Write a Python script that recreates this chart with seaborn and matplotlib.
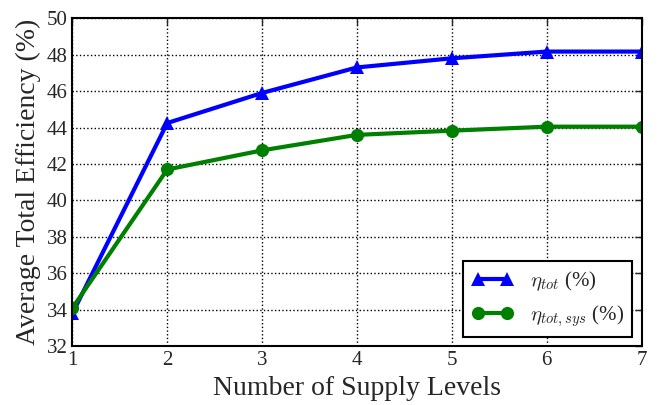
import matplotlib
matplotlib.use("Agg")
import matplotlib.pyplot as plt
import seaborn as sns
import pandas as pd

levels = [1, 2, 3, 4, 5, 6, 7]
eta_tot = [33.8, 44.25, 45.9, 47.3, 47.8, 48.17, 48.17]
eta_tot_sys = [34.1, 41.7, 42.75, 43.6, 43.83, 44.05, 44.05]
label_tot = r"$\eta_{tot}$ (%)"
label_sys = r"$\eta_{tot,sys}$ (%)"

sns.set_style("white")
plt.rcParams['font.family'] = ['Liberation Serif', 'DejaVu Serif']
plt.rcParams['mathtext.fontset'] = 'cm'

df = pd.DataFrame({
    "x": levels * 2,
    "y": eta_tot + eta_tot_sys,
    "series": [label_tot] * len(levels) + [label_sys] * len(levels),
})

fig, ax = plt.subplots(figsize=(6.58, 4.05), dpi=100)
sns.lineplot(data=df, x="x", y="y", hue="series", style="series",
             palette=["#0000ff", "#008000"], markers=["^", "o"], dashes=False,
             linewidth=3, markersize=9.5, markeredgewidth=0, ax=ax, legend=True)

ax.set_xlim(1, 7)
ax.set_ylim(32, 50)
ax.set_xticks(levels)
ax.set_yticks(range(32, 51, 2))
ax.tick_params(labelsize=15, direction="in", length=5, width=1, top=True, right=True)
ax.grid(True, linestyle=":", color="black", linewidth=1)
for s in ax.spines.values():
    s.set_color("black")
    s.set_linewidth(1.5)
ax.set_xlabel("Number of Supply Levels", fontsize=20)
ax.set_ylabel("Average Total Efficiency (%)", fontsize=20)

h, l = ax.get_legend_handles_labels()
leg = ax.legend(h, l, loc="lower right", fontsize=15, frameon=True, fancybox=False,
                edgecolor="black", framealpha=1, numpoints=2, handlelength=2.0,
                handletextpad=0.8, borderpad=0.4, labelspacing=0.45,
                borderaxespad=0.45)
leg.get_frame().set_linewidth(1.5)
for lh in leg.get_lines():
    lh.set_linewidth(3)
    lh.set_markersize(9.5)

fig.subplots_adjust(left=0.11, right=0.975, bottom=0.145, top=0.955)
fig.savefig("out.png", dpi=100)
